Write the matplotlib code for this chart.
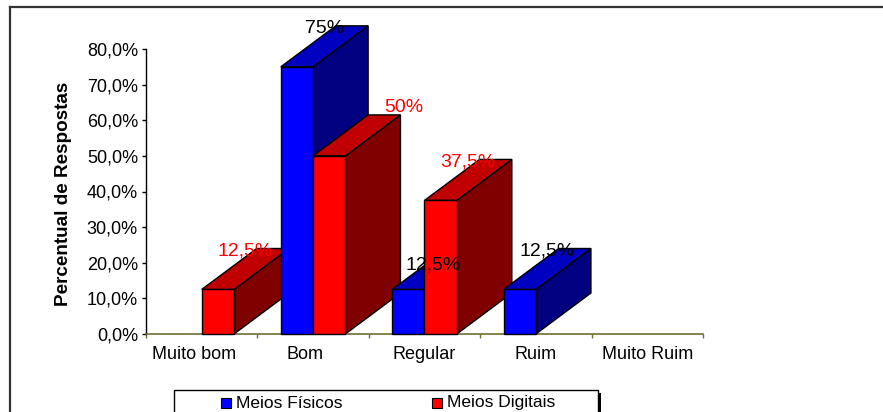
import matplotlib
matplotlib.use("Agg")
import matplotlib.pyplot as plt
from matplotlib.patches import Polygon, Rectangle
from matplotlib.lines import Line2D
import matplotlib.transforms as mtransforms

plt.rcParams['font.family'] = ['Liberation Sans', 'DejaVu Sans']

# ---- data ----
categories = ["Muito bom", "Bom", "Regular", "Ruim", "Muito Ruim"]
series_names = ["Meios Físicos", "Meios Digitais"]
fisicos = [0, 75, 12.5, 12.5, 0]
digitais = [12.5, 50, 37.5, 0, 0]
yticks = [0, 10, 20, 30, 40, 50, 60, 70, 80]

# ---- style ----
W, H = 883, 412
front_cols = ["#0000FF", "#FF0000"]
top_cols = ["#0000C0", "#C00000"]
side_cols = ["#000080", "#800000"]
label_cols = ["black", "#FF0000"]
bar_w = 0.29
depth_x = 0.494      # in category units
depth_y = 11.5       # in percent units
# label nudges in pixels (dx, dy) per (series, category)
label_nudge = {(1, 1): (47, 10), (0, 2): (-3, -14)}
xlabel_nudge_px = [-8, -8, 0, 0, 0]

fig = plt.figure(figsize=(W / 100, H / 100), dpi=100)
ax = fig.add_axes([146 / W, 78 / H, 557 / W, 285 / H])
ax.set_xlim(-0.5, len(categories) - 0.5)
ax.set_ylim(0, 80)

for s in ["top", "right"]:
    ax.spines[s].set_visible(False)
ax.spines["left"].set_color("#000000")
ax.spines["left"].set_linewidth(1)
ax.spines["bottom"].set_color("#6E6E30")
ax.spines["bottom"].set_linewidth(1.2)

ax.set_yticks(yticks)
ax.set_yticklabels([f"{v:.1f}%".replace(".", ",") for v in yticks], fontsize=13)
ax.tick_params(axis="y", length=2.9, width=1, pad=2.9, direction="out", color="black")

ax.set_xticks([i - 0.5 for i in range(len(categories) + 1)])
ax.set_xticklabels([])
ax.tick_params(axis="x", which="major", length=2.6, width=1, direction="out", color="#6E6E30")
ax.set_xticks(range(len(categories)), minor=True)
ax.set_xticklabels(categories, minor=True, fontsize=13)
ax.tick_params(axis="x", which="minor", length=0, pad=8.5)
for lab, dxp in zip(ax.get_xticklabels(minor=True), xlabel_nudge_px):
    lab.set_transform(lab.get_transform() +
                      mtransforms.ScaledTranslation(dxp / 100, 0, fig.dpi_scale_trans))

series = [fisicos, digitais]
z = 3
for ci in range(len(categories)):
    for si, vals in enumerate(series):
        v = vals[ci]
        if v <= 0:
            continue
        x0 = ci - bar_w if si == 0 else ci
        x1 = x0 + bar_w
        front = Polygon([(x0, 0), (x1, 0), (x1, v), (x0, v)], closed=True,
                        facecolor=front_cols[si], edgecolor="black", lw=1, zorder=z, clip_on=False)
        top = Polygon([(x0, v), (x1, v), (x1 + depth_x, v + depth_y), (x0 + depth_x, v + depth_y)],
                      closed=True, facecolor=top_cols[si], edgecolor="black", lw=1, zorder=z, clip_on=False)
        side = Polygon([(x1, 0), (x1 + depth_x, depth_y), (x1 + depth_x, v + depth_y), (x1, v)],
                       closed=True, facecolor=side_cols[si], edgecolor="black", lw=1, zorder=z, clip_on=False)
        for p in (side, top, front):
            ax.add_patch(p)
        z += 1
        lbl = (f"{v:g}".replace(".", ",")) + "%"
        nx, ny = label_nudge.get((si, ci), (0, 0))
        ny -= 3
        ax.annotate(lbl, xy=((x0 + x1) / 2 + depth_x / 2, v + depth_y),
                    xytext=(nx * 0.72, ny * 0.72), textcoords="offset points",
                    ha="center", va="center", fontsize=14, color=label_cols[si],
                    zorder=100, annotation_clip=False)

# y axis title
fig.text(63 / W, 1 - 194 / H, "Percentual de Respostas", rotation=90, ha="center", va="center",
         fontsize=13.6, fontweight="bold")

# outer chart frame
fig.add_artist(Line2D([10 / W, 10 / W], [0, 1 - 7 / H], color="#333333", lw=1.6))
fig.add_artist(Line2D([10 / W, 1], [1 - 7 / H, 1 - 7 / H], color="#333333", lw=1.6))

# legend (manual, partially cut by the bottom edge)
def fx(px):
    return px / W

def fy(py):
    return 1 - py / H

fig.add_artist(Rectangle((fx(598), fy(420)), 3 / W, 27 / H, transform=fig.transFigure,
                         facecolor="black", edgecolor="none"))
fig.add_artist(Rectangle((fx(174), fy(420)), 424 / W, 30 / H, transform=fig.transFigure,
                         facecolor="white", edgecolor="black", lw=1))
leg_sq_x = [221, 432]
for si, name in enumerate(series_names):
    fig.add_artist(Rectangle((fx(leg_sq_x[si]), fy(408)), 10 / W, 10 / H, transform=fig.transFigure,
                             facecolor=front_cols[si], edgecolor="black", lw=0.8))
    fig.text(fx(leg_sq_x[si] + 15), fy(403), name, ha="left", va="center", fontsize=12.5)

fig.savefig("out.png", dpi=100)
